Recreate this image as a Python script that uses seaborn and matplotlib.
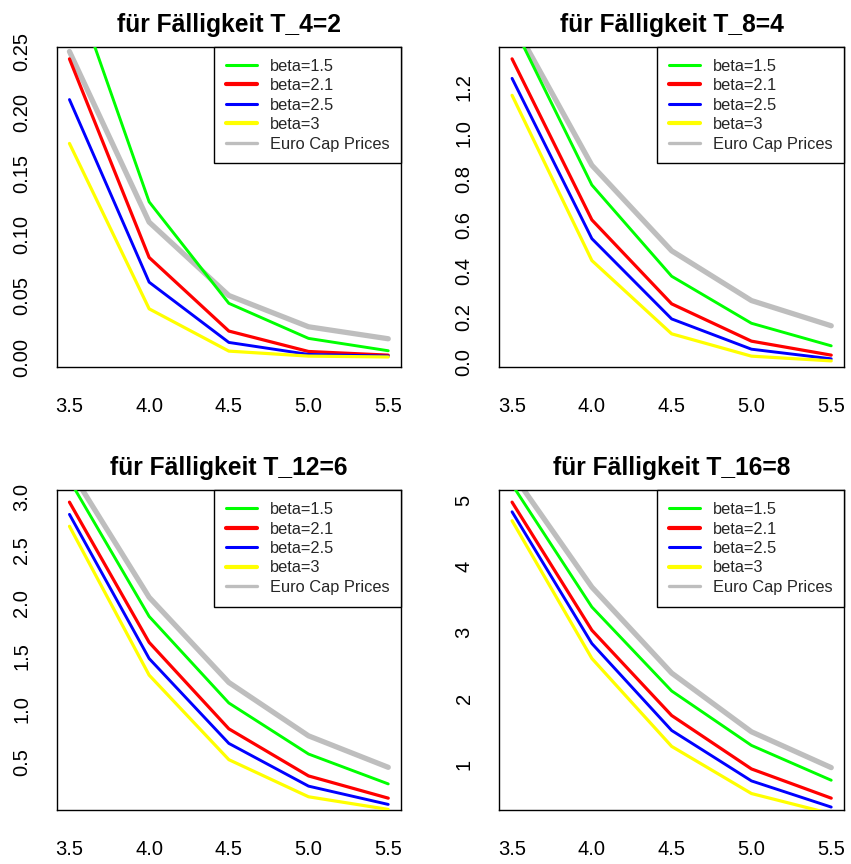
import matplotlib
matplotlib.use("Agg")
import matplotlib.pyplot as plt
from matplotlib.lines import Line2D
import numpy as np
import pandas as pd
import seaborn as sns

# Strike levels (in %) on the x axis
strikes = [3.5, 4.0, 4.5, 5.0, 5.5]

# Maturity T_4=2
t4_beta15 = [0.313, 0.127, 0.044, 0.0153, 0.0052]
t4_beta21 = [0.244, 0.0815, 0.0213, 0.0046, 0.0016]
t4_beta25 = [0.2107, 0.0613, 0.012, 0.0022, 0.0008]
t4_beta3 = [0.1748, 0.0395, 0.0049, 0.0008, 0.0001]
t4_euro = [0.250, 0.1104, 0.0504, 0.0248, 0.015]

# Maturity T_8=4
t8_beta15 = [1.48, 0.774, 0.376, 0.171, 0.0726]
t8_beta21 = [1.324, 0.622, 0.2557, 0.093, 0.032]
t8_beta25 = [1.239, 0.540, 0.190, 0.058, 0.016]
t8_beta3 = [1.165, 0.4446, 0.125, 0.0276, 0.007]
t8_euro = [1.49, 0.86, 0.487, 0.270, 0.160]

# Maturity T_12=6
t12_beta15 = [3.156, 1.872, 1.058, 0.578, 0.297]
t12_beta21 = [2.947, 1.628, 0.815, 0.372, 0.163]
t12_beta25 = [2.832, 1.476, 0.678, 0.276, 0.104]
t12_beta3 = [2.72, 1.32, 0.525, 0.176, 0.057]
t12_euro = [3.259, 2.052, 1.251, 0.749, 0.453]

# Maturity T_16=8
t16_beta15 = [5.236, 3.384, 2.114, 1.291, 0.764]
t16_beta21 = [4.97, 3.033, 1.743, 0.935, 0.493]
t16_beta25 = [4.824, 2.832, 1.517, 0.754, 0.358]
t16_beta3 = [4.689, 2.606, 1.276, 0.563, 0.257]
t16_euro = [5.41, 3.685, 2.385, 1.497, 0.955]

titles = ["für Fälligkeit T_4=2", "für Fälligkeit T_8=4",
          "für Fälligkeit T_12=6", "für Fälligkeit T_16=8"]
series_labels = ["beta=1.5", "beta=2.1", "beta=2.5", "beta=3", "Euro Cap Prices"]
y_ticks = [
    [0.00, 0.05, 0.10, 0.15, 0.20, 0.25],
    [0.0, 0.2, 0.4, 0.6, 0.8, 1.0, 1.2],
    [0.5, 1.0, 1.5, 2.0, 2.5, 3.0],
    [1, 2, 3, 4, 5],
]
y_fmt = ["{:.2f}", "{:.1f}", "{:.1f}", "{:.0f}"]
x_ticks = [3.5, 4.0, 4.5, 5.0, 5.5]

panels = [
    [t4_beta15, t4_beta21, t4_beta25, t4_beta3, t4_euro],
    [t8_beta15, t8_beta21, t8_beta25, t8_beta3, t8_euro],
    [t12_beta15, t12_beta21, t12_beta25, t12_beta3, t12_euro],
    [t16_beta15, t16_beta21, t16_beta25, t16_beta3, t16_euro],
]

colors = ["#00FF00", "#FF0000", "#0000FF", "#FFFF00", "#BEBEBE"]
plot_lw = [2.1, 2.3, 2.1, 2.3, 3.8]
legend_lw = [2.2, 3.0, 2.2, 3.0, 2.4]
zorders = [3, 3, 3, 3, 2]

sns.set_theme(style="white")
plt.rcParams["font.family"] = ["Liberation Sans", "DejaVu Sans"]
plt.rcParams["axes.edgecolor"] = "black"
plt.rcParams["axes.linewidth"] = 1.0

W, H = 851, 864
fig = plt.figure(figsize=(W / 100, H / 100), dpi=100)

# axes boxes in pixels: (left, top, right, bottom)
boxes = [
    (56.7, 47.0, 401.0, 367.0),
    (499.3, 47.0, 844.0, 367.0),
    (56.7, 490.3, 401.0, 810.0),
    (499.3, 490.3, 844.0, 810.0),
]

for i, (box, data) in enumerate(zip(boxes, panels)):
    l, t, r, b = box
    ax = fig.add_axes([l / W, 1 - b / H, (r - l) / W, (b - t) / H])
    for vals, lab, col, lw, zo in zip(data, series_labels, colors, plot_lw, zorders):
        df = pd.DataFrame({"strike": strikes, "price": vals})
        sns.lineplot(data=df, x="strike", y="price", color=col, linewidth=lw,
                     ax=ax, legend=False, zorder=zo)
    # y range follows the beta=2.1 series with 4% padding on both sides
    ref = np.array(data[1])
    pad = 0.04 * (ref.max() - ref.min())
    ax.set_ylim(ref.min() - pad, ref.max() + pad)
    ax.set_xlim(3.5 - 0.08, 5.5 + 0.08)

    ax.set_xticks(x_ticks)
    ax.set_xticklabels(["{:.1f}".format(v) for v in x_ticks])
    ax.set_yticks(y_ticks[i])
    ax.set_yticklabels([y_fmt[i].format(v) for v in y_ticks[i]])
    ax.tick_params(axis="both", direction="out", length=9, width=1.0,
                   color="black", labelsize=14.5, labelcolor="black")
    ax.tick_params(axis="x", pad=12.5)
    ax.tick_params(axis="y", pad=9.5)
    plt.setp(ax.get_yticklabels(), rotation=90, va="center", ha="right")
    ax.set_xlabel("")
    ax.set_ylabel("")
    for sp in ax.spines.values():
        sp.set_visible(True)
        sp.set_color("black")
        sp.set_linewidth(1.0)

    ax.text(0.5, 1 + 22.0 / (b - t), titles[i], transform=ax.transAxes,
            ha="center", va="center", fontsize=17.7, fontweight="bold",
            color="black")

    handles = [Line2D([0], [0], color=c, lw=w) for c, w in zip(colors, legend_lw)]
    leg = ax.legend(handles, series_labels, loc="upper right",
                    bbox_to_anchor=(1.0, 1.0), borderaxespad=0.0,
                    fontsize=11.8, frameon=True, fancybox=False,
                    handlelength=1.9, handletextpad=0.78, labelspacing=0.27,
                    borderpad=0.72)
    fr = leg.get_frame()
    fr.set_edgecolor("black")
    fr.set_linewidth(1.0)
    fr.set_alpha(1.0)

fig.savefig("out.png", dpi=100, facecolor="white")
